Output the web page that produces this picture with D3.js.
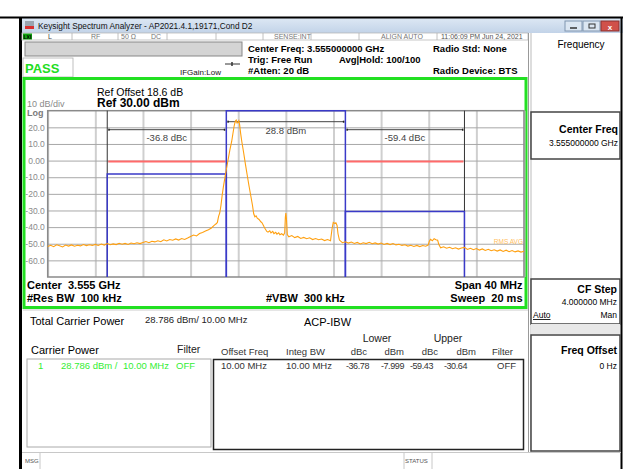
<!DOCTYPE html>
<html>
<head>
<meta charset="utf-8">
<script src="https://cdn.jsdelivr.net/npm/d3@7"></script>
<style>
  body { margin: 0; background: #fff; }
  svg { display: block; font-family: "Liberation Sans", Arial, sans-serif; }
  svg text { white-space: pre; }
</style>
</head>
<body>
<svg id="chart" width="623" height="469"></svg>
<script>
// ---- data ----
var centerGHz = 3.555;
var spanMHz = 40;
var refLevel = 30;          // dBm, top of grid
var dbPerDiv = 10;
var yTicks = [20, 10, 0, -10, -20, -30, -40, -50, -60];
var yTickLabels = ["20.0", "10.0", "0.00", "-10.0", "-20.0", "-30.0", "-40.0", "-50.0", "-60.0"];

// measurement boxes: [start offset MHz, stop offset MHz, level dBm]
var carrierBox = [-5, 5, 30];
var lowerBox = [-15, -5, -7.999];
var upperBox = [5, 15, -30.64];
var limitLevel = -0.5;      // red limit lines, dBm

var bracketLabels = ["-36.8 dBc", "28.8 dBm", "-59.4 dBc"];

// spectrum trace: [offset from center MHz, dBm]
var trace = [
  [-20,-51.6],[-19.75,-50.9],[-19.5,-51.8],[-19.25,-50.6],[-19,-51.2],[-18.75,-51.9],[-18.5,-50.8],[-18.25,-51.4],
  [-18,-50.7],[-17.75,-51.5],[-17.5,-50.9],[-17.25,-51.3],[-17,-50.5],[-16.75,-51.1],[-16.5,-50.6],[-16.25,-51.0],
  [-16,-50.4],[-15.75,-51.0],[-15.5,-50.2],[-15.25,-50.8],[-15,-49.9],[-14.75,-50.6],[-14.5,-50.1],[-14.25,-50.5],
  [-14,-49.7],[-13.75,-50.3],[-13.5,-49.8],[-13.25,-50.4],[-13,-49.6],[-12.75,-50.0],[-12.5,-49.4],[-12.25,-49.9],
  [-12,-49.2],[-11.75,-48.7],[-11.5,-49.4],[-11.25,-48.5],[-11,-48.9],[-10.75,-48.2],[-10.5,-48.8],[-10.25,-47.6],
  [-10,-48.3],[-9.75,-47.5],[-9.5,-47.9],[-9.25,-47.1],[-9,-47.8],[-8.75,-46.9],[-8.5,-47.4],[-8.25,-46.6],
  [-8,-45.6],[-7.75,-44.8],[-7.5,-45.3],[-7.25,-43.9],[-7,-43.2],[-6.75,-42.4],[-6.5,-41.6],[-6.25,-40.5],
  [-6,-38.8],[-5.85,-38.0],[-5.75,-37.2],[-5.65,-33.5],[-5.55,-31.5],[-5.45,-27],[-5.35,-21],[-5.25,-16],
  [-5.1,-9.5],[-5,-5.5],[-4.85,0.5],[-4.7,6.5],[-4.55,11.5],[-4.45,16],[-4.35,20.5],[-4.25,23.6],
  [-4.17,24.3],[-4.1,22.6],[-4.03,22.8],[-3.95,24.0],[-3.88,21.5],[-3.8,16.5],[-3.7,11.5],[-3.55,5],
  [-3.4,-2],[-3.25,-8.5],[-3.1,-15],[-2.95,-21],[-2.8,-27],[-2.7,-32],[-2.6,-33.8],[-2.5,-33.2],
  [-2.4,-34.6],[-2.25,-35.4],[-2.1,-36.8],[-2,-37.4],[-1.85,-39.5],[-1.75,-40.8],[-1.6,-42.6],[-1.5,-43.0],
  [-1.35,-42.2],[-1.25,-43.5],[-1.1,-42.6],[-1,-43.9],[-0.85,-43.1],[-0.75,-44.2],[-0.6,-43.4],[-0.5,-44.6],
  [-0.35,-44.0],[-0.2,-44.8],[-0.1,-43.5],[-0.04,-34],[0,-31.6],[0.05,-35],[0.12,-44.5],[0.25,-45.8],
  [0.5,-45.1],[0.75,-46.3],[1,-45.6],[1.25,-46.8],[1.5,-46.2],[1.75,-47.0],[2,-46.4],[2.25,-47.5],
  [2.5,-46.9],[2.75,-47.6],[3,-47.2],[3.25,-48.1],[3.5,-47.5],[3.75,-48.2],[3.88,-41],[3.98,-37.2],
  [4.1,-37.8],[4.2,-37.4],[4.3,-39],[4.38,-44],[4.5,-47.8],[4.75,-49.4],[5,-48.8],[5.25,-49.6],
  [5.5,-49.0],[5.75,-49.8],[6,-49.2],[6.25,-50.1],[6.5,-49.4],[6.75,-49.9],[7,-49.1],[7.25,-50.0],
  [7.5,-49.5],[7.75,-50.2],[8,-49.6],[8.25,-50.4],[8.5,-49.8],[8.75,-50.5],[9,-49.9],[9.25,-50.7],
  [9.5,-50.3],[9.75,-51.0],[10,-50.6],[10.25,-51.4],[10.5,-50.9],[10.75,-51.6],[11,-51.0],[11.25,-51.7],
  [11.5,-51.1],[11.75,-51.5],[11.95,-50.8],[12.05,-48.5],[12.15,-47.4],[12.3,-48.2],[12.45,-47.0],[12.6,-47.6],
  [12.75,-47.9],[12.85,-50.5],[13,-52.4],[13.25,-51.8],[13.5,-52.7],[13.75,-52.1],[14,-53.0],[14.25,-52.4],
  [14.5,-53.2],[14.75,-52.6],[15,-52.2],[15.25,-53.4],[15.5,-52.7],[15.75,-53.6],[16,-52.9],[16.25,-53.8],
  [16.5,-53.1],[16.75,-54.0],[17,-53.3],[17.25,-54.2],[17.5,-53.6],[17.75,-54.4],[18,-53.7],[18.25,-54.6],
  [18.5,-53.9],[18.75,-54.8],[19,-54.1],[19.25,-54.9],[19.5,-54.3],[19.75,-55.0],[20,-54.5]
];

// result table
var resultHeaders = ["Offset Freq", "Integ BW", "dBc", "dBm", "dBc", "dBm", "Filter"];
var resultRow = ["10.00 MHz", "10.00 MHz", "-36.78", "-7.999", "-59.43", "-30.64", "OFF"];
var carrierRow = ["1", "28.786 dBm /", "10.00 MHz", "OFF"];

var svg = d3.select("#chart");

function txt(x, y, s, o) {
  o = o || {};
  return svg.append("text")
    .attr("x", x).attr("y", y)
    .attr("font-size", o.size || 9)
    .attr("font-weight", o.bold ? "bold" : null)
    .attr("fill", o.color || "#000")
    .attr("text-anchor", o.anchor || "start")
    .attr("letter-spacing", o.ls || null)
    .text(s);
}
function rect(x, y, w, h, fill, stroke, sw) {
  return svg.append("rect")
    .attr("x", x).attr("y", y).attr("width", w).attr("height", h)
    .attr("fill", fill || "none")
    .attr("stroke", stroke || "none")
    .attr("stroke-width", sw || 1);
}
function line(x1, y1, x2, y2, stroke, sw) {
  return svg.append("line")
    .attr("x1", x1).attr("y1", y1).attr("x2", x2).attr("y2", y2)
    .attr("stroke", stroke).attr("stroke-width", sw || 1);
}

// ---- window frame ----
rect(0, 0, 623, 469, "#fff");
var grad = svg.append("defs").append("linearGradient")
  .attr("id", "tb").attr("x1", 0).attr("y1", 0).attr("x2", 0).attr("y2", 1);
grad.append("stop").attr("offset", "0%").attr("stop-color", "#dde8f4");
grad.append("stop").attr("offset", "100%").attr("stop-color", "#c2d3e8");
rect(21, 18, 602, 15, "url(#tb)");
line(0, 17.5, 623, 17.5, "#000", 2);
line(20.5, 17, 20.5, 469, "#000", 3);
line(621.5, 17, 621.5, 469, "#000", 2);

// title bar icon + text
rect(25, 21, 9, 5, "#9aa4b0");
rect(25, 26, 9, 3, "#d83030");
txt(38, 29, "Keysight Spectrum Analyzer - AP2021.4.1,19171,Cond D2", { size: 8.3, color: "#111" });
// window buttons
rect(565, 21, 17, 10, "#dbe6f2", "#8096b0");
rect(583, 21, 17, 10, "#dbe6f2", "#8096b0");
rect(601, 21, 18, 10, "#d0504a", "#8a3030");
line(570, 28, 577, 28, "#333", 1.5);
rect(589, 24, 6, 4, "none", "#333", 1);
txt(610, 29.5, "x", { size: 8, bold: true, color: "#fff", anchor: "middle" });

// status row
rect(22, 33, 506, 7, "#fff", "#b8b8b8", 0.8);
rect(23, 33.5, 9, 6, "#10a010");
txt(23.5, 39, "LXI", { size: 5, bold: true, color: "#000" });
[72, 118, 167, 216, 263, 311, 359, 437].forEach(function(x) { line(x, 33, x, 40, "#b0b0b0", 0.8); });
txt(48, 39, "L", { size: 7, color: "#444" });
txt(91, 39, "RF", { size: 7, color: "#777" });
txt(121, 39, "50 \u03A9", { size: 7, color: "#777" });
txt(151, 39, "DC", { size: 7, color: "#777" });
txt(274, 39, "SENSE:INT", { size: 7, color: "#777" });
txt(381, 39, "ALIGN AUTO", { size: 7, color: "#777" });
txt(441, 39, "11:06:09 PM Jun 24, 2021", { size: 7, color: "#555" });

// gray bar + PASS area
rect(25, 42, 217, 14, "#d4d4d4", "#888", 1);
rect(23, 58, 50, 19, "#fff", "#b0b0b0", 0.8);
txt(25, 72.5, "PASS", { size: 13, bold: true, color: "#22dd22" });
txt(180, 74.5, "IFGain:Low", { size: 8, color: "#111" });
line(225, 64, 240, 64, "#333", 1);
line(232, 62, 232, 66, "#333", 1.5);

// header info
txt(248, 51.5, "Center Freq: 3.555000000 GHz", { size: 9.5, bold: true });
txt(248, 62.5, "Trig: Free Run", { size: 9.5, bold: true });
txt(339, 62.5, "Avg|Hold: 100/100", { size: 9.5, bold: true });
txt(248, 73.5, "#Atten: 20 dB", { size: 9.5, bold: true });
txt(433, 51.5, "Radio Std: None", { size: 9.5, bold: true });
txt(433, 73.5, "Radio Device: BTS", { size: 9.5, bold: true });

// right soft-key panel
line(528.5, 33, 528.5, 452, "#999", 1);
line(531, 33, 531, 452, "#bbb", 1);
txt(581, 48, "Frequency", { size: 10, anchor: "middle" });
rect(531, 112, 89, 47, "#fff", "#444", 1.5);
txt(618, 133, "Center Freq", { size: 10.5, bold: true, anchor: "end" });
txt(618, 146, "3.555000000 GHz", { size: 8.5, anchor: "end" });
rect(531, 279, 89, 45, "#fff", "#444", 1.5);
txt(617, 293, "CF Step", { size: 10.5, bold: true, anchor: "end" });
txt(617, 305, "4.000000 MHz", { size: 8.5, anchor: "end" });
txt(533, 318, "Auto", { size: 8.5 }).attr("text-decoration", "underline");
txt(617, 318, "Man", { size: 8.5, anchor: "end" });
rect(531, 324, 89, 10, "#e8e8e8");
rect(531, 335, 89, 116, "#fff", "#444", 1.5);
txt(617, 354, "Freq Offset", { size: 10.5, bold: true, anchor: "end" });
txt(617, 369, "0 Hz", { size: 8.5, anchor: "end" });

// ---- spectrum plot ----
rect(24, 78.5, 502, 229, "#fff", "#22e022", 3);

var x = d3.scaleLinear()
  .domain([centerGHz - spanMHz / 2000, centerGHz + spanMHz / 2000])
  .range([47.7, 524]);
var y = d3.scaleLinear()
  .domain([refLevel - 10 * dbPerDiv, refLevel])
  .range([277, 110.7]);
function fx(mhz) { return x(centerGHz + mhz / 1000); }

// vertical grid (light, wider) from the axis generator
var xGrid = svg.append("g")
  .attr("transform", "translate(0," + y.range()[0] + ")")
  .call(d3.axisBottom(x).tickValues(d3.range(11).map(function(i) { return x.domain()[0] + i * spanMHz / 10000; }))
    .tickSize(-(y.range()[0] - y.range()[1])).tickFormat(""));
xGrid.select(".domain").remove();
xGrid.selectAll("line").attr("stroke", "#cfcfcf").attr("stroke-width", 2);

// horizontal grid + labels
var yGrid = svg.append("g")
  .attr("transform", "translate(" + x.range()[0] + ",0)")
  .call(d3.axisLeft(y).tickValues(yTicks)
    .tickSize(-(x.range()[1] - x.range()[0]))
    .tickFormat(function(d, i) { return yTickLabels[i]; }));
yGrid.select(".domain").remove();
yGrid.selectAll("line").attr("stroke", "#a8a8a8").attr("stroke-width", 1);
yGrid.selectAll("text")
  .attr("x", -3).attr("font-size", 8.5)
  .attr("font-family", "Liberation Sans, Arial, sans-serif")
  .attr("fill", "#8a8a8a");

// plot frame
rect(x.range()[0], y.range()[1], x.range()[1] - x.range()[0], y.range()[0] - y.range()[1], "none", "#8a8a8a", 1.5);

txt(27, 106.5, "10 dB/div", { size: 9, color: "#8a8a8a" });
txt(27, 116, "Log", { size: 9, bold: true, color: "#7a7a7a" });
txt(97, 95.5, "Ref Offset 18.6 dB", { size: 10.5 });
txt(97, 107, "Ref 30.00 dBm", { size: 12, bold: true });

// black edges of the adjacent channels
line(fx(lowerBox[0]), y.range()[1], fx(lowerBox[0]), y.range()[0], "#333", 1);
line(fx(upperBox[1]), y.range()[1], fx(upperBox[1]), y.range()[0], "#333", 1);

// red limit lines
[lowerBox, upperBox].forEach(function(b) {
  line(fx(b[0]) + 1, y(limitLevel), fx(b[1]) - 1, y(limitLevel), "#ff6a6a", 2);
});

// blue measurement boxes
[carrierBox, lowerBox, upperBox].forEach(function(b) {
  svg.append("path")
    .attr("d", "M" + fx(b[0]) + "," + y.range()[0] + "V" + y(b[2]) + "H" + fx(b[1]) + "V" + y.range()[0])
    .attr("fill", "none").attr("stroke", "#3a3ac8").attr("stroke-width", 1.5);
});

// brackets with labels
var brackets = [
  { b: lowerBox, yy: 129.7, ly: 141, label: bracketLabels[0] },
  { b: carrierBox, yy: 121.7, ly: 133.5, label: bracketLabels[1] },
  { b: upperBox, yy: 129.7, ly: 141, label: bracketLabels[2] }
];
brackets.forEach(function(d) {
  var x0 = fx(d.b[0]) + 1.5, x1 = fx(d.b[1]) - 1.5;
  line(x0, d.yy, x1, d.yy, "#444", 1);
  rect(x0 - 0.5, d.yy - 1, 1.5, 2, "#222");
  rect(x1 - 1, d.yy - 1, 1.5, 2, "#222");
  txt((x0 + x1) / 2, d.ly, d.label, { size: 9.5, color: "#444", anchor: "middle" });
});

// trace
svg.append("path")
  .datum(trace)
  .attr("d", d3.line().x(function(d) { return fx(d[0]); }).y(function(d) { return y(d[1]); }))
  .attr("fill", "none")
  .attr("stroke", "#ffa010")
  .attr("stroke-width", 1.1);

txt(523, 244, "RMS AVG", { size: 6.5, color: "#ffc060", anchor: "end" });

txt(27, 288.5, "Center  3.555 GHz", { size: 11, bold: true });
txt(27, 301.5, "#Res BW  100 kHz", { size: 11, bold: true });
txt(266, 301.5, "#VBW  300 kHz", { size: 11, bold: true });
txt(522.5, 288.5, "Span 40 MHz", { size: 11, bold: true, anchor: "end" });
txt(522.5, 301.5, "Sweep  20 ms", { size: 11, bold: true, anchor: "end" });

// ---- result panel ----
line(23, 310, 528, 310, "#ccc", 1);
txt(30, 325, "Total Carrier Power", { size: 11 });
txt(145, 323, "28.786 dBm/ 10.00 MHz", { size: 9.5, color: "#222" });
txt(304, 326, "ACP-IBW", { size: 11 });
txt(377, 342, "Lower", { size: 10.5, anchor: "middle", color: "#222" });
txt(448, 342, "Upper", { size: 10.5, anchor: "middle", color: "#222" });
txt(31, 354, "Carrier Power", { size: 11 });
txt(177, 353, "Filter", { size: 10.5, color: "#222" });

rect(27, 359, 184, 88, "#fff", "#aaa", 1);
var crX = [38, 61, 123, 176];
carrierRow.forEach(function(s, i) { txt(crX[i], 369, s, { size: 9.5, color: "#33ee33" }); });

rect(213.5, 359.5, 310, 90, "#fff", "#222", 1.5);
var hdrX = [221, 286, 367, 404, 438, 476, 513];
var hdrA = ["start", "start", "end", "end", "end", "end", "end"];
resultHeaders.forEach(function(s, i) { txt(hdrX[i], 355, s, { size: 9.5, color: "#333", anchor: hdrA[i] }); });
var valX = [221, 286, 369, 404, 433, 467, 497];
var valA = ["start", "start", "end", "end", "end", "end", "start"];
resultRow.forEach(function(s, i) {
  txt(valX[i], 369, s, { size: i >= 2 && i <= 5 ? 9 : 9.5, color: "#333", anchor: valA[i], ls: i >= 2 && i <= 5 ? -0.4 : null });
});

// bottom status bar
line(22, 452.5, 621, 452.5, "#c8c8c8", 1);
line(40, 453, 40, 469, "#c8c8c8", 1);
line(404, 453, 404, 469, "#c8c8c8", 1);
line(432, 453, 432, 469, "#c8c8c8", 1);
txt(25, 463, "MSG", { size: 6, color: "#555" });
txt(405, 463, "STATUS", { size: 6, color: "#555" });
</script>
</body>
</html>
